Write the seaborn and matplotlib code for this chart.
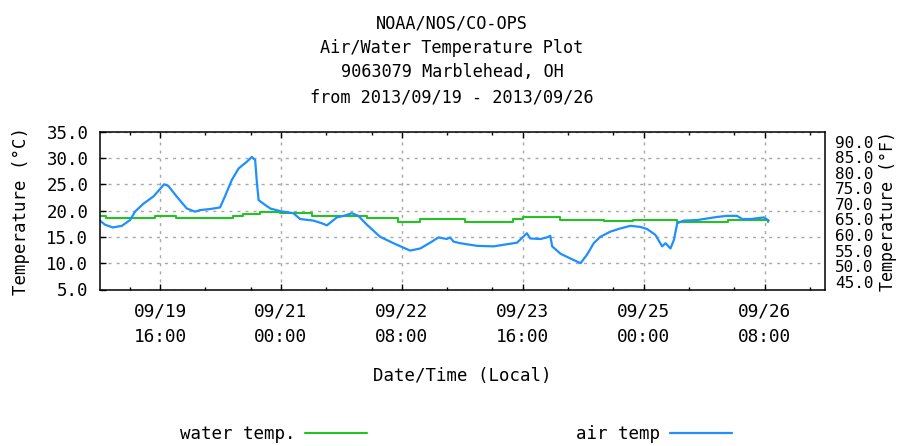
import numpy as np
import pandas as pd
import matplotlib
matplotlib.use("Agg")
import matplotlib.pyplot as plt
import seaborn as sns

# ---------------- data ----------------
start = "2013-09-19 00:00"
title_lines = ["NOAA/NOS/CO-OPS", "Air/Water Temperature Plot",
               "9063079 Marblehead, OH", "from 2013/09/19 - 2013/09/26"]

# water temperature (deg C), hours since 09/19 00:00 (step series)
water_hours = [0.0, 1.8, 14.7, 20.3, 35.3, 38.0, 42.5, 47.8, 56.2, 70.8,
               79.0, 84.9, 92.8, 96.8, 109.5, 112.0, 121.9, 133.4, 141.3,
               152.9, 166.4, 177.0]
water_temp = [18.9, 18.5, 18.9, 18.5, 18.9, 19.3, 19.7, 19.5, 18.9, 18.5,
              17.9, 18.4, 18.4, 17.9, 18.4, 18.8, 18.3, 18.1, 18.2, 17.9,
              18.2, 17.8]

# air temperature (deg C)
air_hours = [0.1, 1.5, 3.5, 5.9, 8.1, 9.4, 11.6, 14.3, 17.1, 18.2, 20.4,
             23.1, 25.3, 26.6, 29.3, 31.9, 33.2, 35.0, 36.8, 39.0, 40.3,
             41.2, 41.6, 42.1, 43.4, 45.2, 47.8, 51.3, 53.1, 56.6, 58.8,
             60.2, 62.8, 64.6, 66.8, 68.5, 70.8, 74.3, 77.8, 82.2, 84.9,
             87.5, 89.7, 91.9, 92.8, 93.7, 95.5, 99.9, 104.3, 106.9, 110.5,
             112.1, 113.1, 114.0, 116.7, 118.4, 119.3, 119.8, 122.0, 124.6,
             127.3, 129.0, 130.8, 132.5, 135.2, 137.8, 140.5, 143.1, 144.9,
             147.1, 148.9, 149.8, 151.1, 152.0, 152.9, 154.6, 158.2, 160.8,
             163.5, 166.1, 168.7, 170.1, 172.3, 175.8, 177.1]
air_temp = [18.1, 17.3, 16.8, 17.1, 18.2, 19.8, 21.3, 22.7, 25.0, 24.7,
            22.7, 20.4, 19.8, 20.1, 20.3, 20.6, 22.7, 25.8, 28.0, 29.3,
            30.2, 29.6, 25.8, 22.0, 21.3, 20.4, 19.9, 19.5, 18.4, 18.1,
            17.6, 17.2, 18.7, 19.0, 19.5, 19.0, 17.3, 15.0, 13.8, 12.4,
            12.8, 13.9, 14.9, 14.6, 14.9, 14.1, 13.8, 13.3, 13.2, 13.5,
            13.9, 15.0, 15.7, 14.7, 14.6, 14.9, 15.2, 13.2, 11.8, 10.9,
            10.0, 11.6, 13.8, 15.0, 16.0, 16.6, 17.1, 16.9, 16.5, 15.4,
            13.2, 13.8, 12.8, 14.4, 17.6, 18.1, 18.2, 18.5, 18.8, 19.0,
            19.0, 18.4, 18.4, 18.7, 18.1]

major_ticks = ["2013-09-19 16:00", "2013-09-21 00:00", "2013-09-22 08:00",
               "2013-09-23 16:00", "2013-09-25 00:00", "2013-09-26 08:00"]
major_labels = ["09/19\n16:00", "09/21\n00:00", "09/22\n08:00",
                "09/23\n16:00", "09/25\n00:00", "09/26\n08:00"]
minor_hours = [8, 28, 40, 60, 72, 92, 104, 124, 136, 156, 168, 188]
c_ticks = [5, 10, 15, 20, 25, 30, 35]
f_ticks = [45, 50, 55, 60, 65, 70, 75, 80, 85, 90]

# ---------------- build frames ----------------
t0 = pd.Timestamp(start)
water = pd.DataFrame({"time": t0 + pd.to_timedelta(water_hours, unit="h"),
                      "temp": water_temp})
air = pd.DataFrame({"time": t0 + pd.to_timedelta(air_hours, unit="h"),
                    "temp": air_temp})

sns.set_style("white")
MONO = ["DejaVu Sans Mono", "DejaVu Sans"]
plt.rcParams["font.family"] = MONO
plt.rcParams["text.color"] = "black"
plt.rcParams["axes.labelcolor"] = "black"
plt.rcParams["xtick.color"] = "black"
plt.rcParams["ytick.color"] = "black"

W, H = 899, 446
fig = plt.figure(figsize=(W / 100, H / 100), dpi=100)
ax = fig.add_axes([99.5 / W, 1 - 289.5 / H, (825 - 99.5) / W, (289.5 - 131.7) / H])

green = "#22c322"
blue = "#1f8fff"
sns.lineplot(data=water, x="time", y="temp", ax=ax, color=green, lw=1.5,
             drawstyle="steps-post", label="water temp.", legend=False)
sns.lineplot(data=air, x="time", y="temp", ax=ax, color=blue, lw=1.6,
             label="air temp", legend=False)

ax.set_xlim(t0, t0 + pd.Timedelta(hours=192))
ax.set_ylim(5, 35)
ax.set_yticks(c_ticks)
ax.set_yticklabels([f"{v:.1f}" for v in c_ticks])
ax.set_xticks(pd.to_datetime(major_ticks))
ax.set_xticklabels(major_labels, linespacing=1.6)
ax.set_xticks(t0 + pd.to_timedelta(minor_hours, unit="h"), minor=True)

fs = 12.5
ax.tick_params(axis="x", which="major", direction="in", length=4.5, width=1,
               top=True, bottom=True, pad=9, labelsize=12.8, color="black")
ax.tick_params(axis="x", which="minor", direction="in", length=2.2, width=1,
               top=True, bottom=True, color="black")
ax.tick_params(axis="y", which="major", direction="in", length=4.5, width=1,
               left=True, right=False, pad=8, labelsize=fs, color="black")

for s in ax.spines.values():
    s.set_color("black")
    s.set_linewidth(1.1)
    s.set_visible(True)

grid_kw = dict(color="#a8a8a8", lw=1.0, linestyle=(0, (2.2, 3.6)))
ax.grid(True, axis="both", which="major", **grid_kw)

ax.set_xlabel("Date/Time (Local)", fontsize=fs, labelpad=15)
ax.set_ylabel("Temperature (°C)", fontsize=fs, labelpad=12)

# Fahrenheit axis (labels as drawn in the reference)
ax2 = ax.twinx()
ax2.set_ylim(42.5, 93.2)
ax2.set_yticks(f_ticks)
ax2.set_yticklabels([f"{v:.1f}" for v in f_ticks])
ax2.tick_params(axis="y", length=0, pad=7, labelsize=11.5)
ax2.grid(False)
for s in ax2.spines.values():
    s.set_visible(False)
ax2.set_ylabel("Temperature (°F)", fontsize=12, labelpad=4)

# title
for i, line in enumerate(title_lines):
    fig.text(452 / W, 1 - (23 + 24.7 * i) / H, line, ha="center", va="center",
             fontsize=12.2, family=MONO)

# legend
handles, labels = ax.get_legend_handles_labels()
fig.legend(handles, labels, loc="center left", ncol=2, frameon=False,
           markerfirst=False, fontsize=12.6, handlelength=3.54,
           handletextpad=0.57, columnspacing=11.94, borderpad=0,
           borderaxespad=0, bbox_to_anchor=(180 / W, 1 - 434 / H))

fig.savefig("out.png", dpi=100)
